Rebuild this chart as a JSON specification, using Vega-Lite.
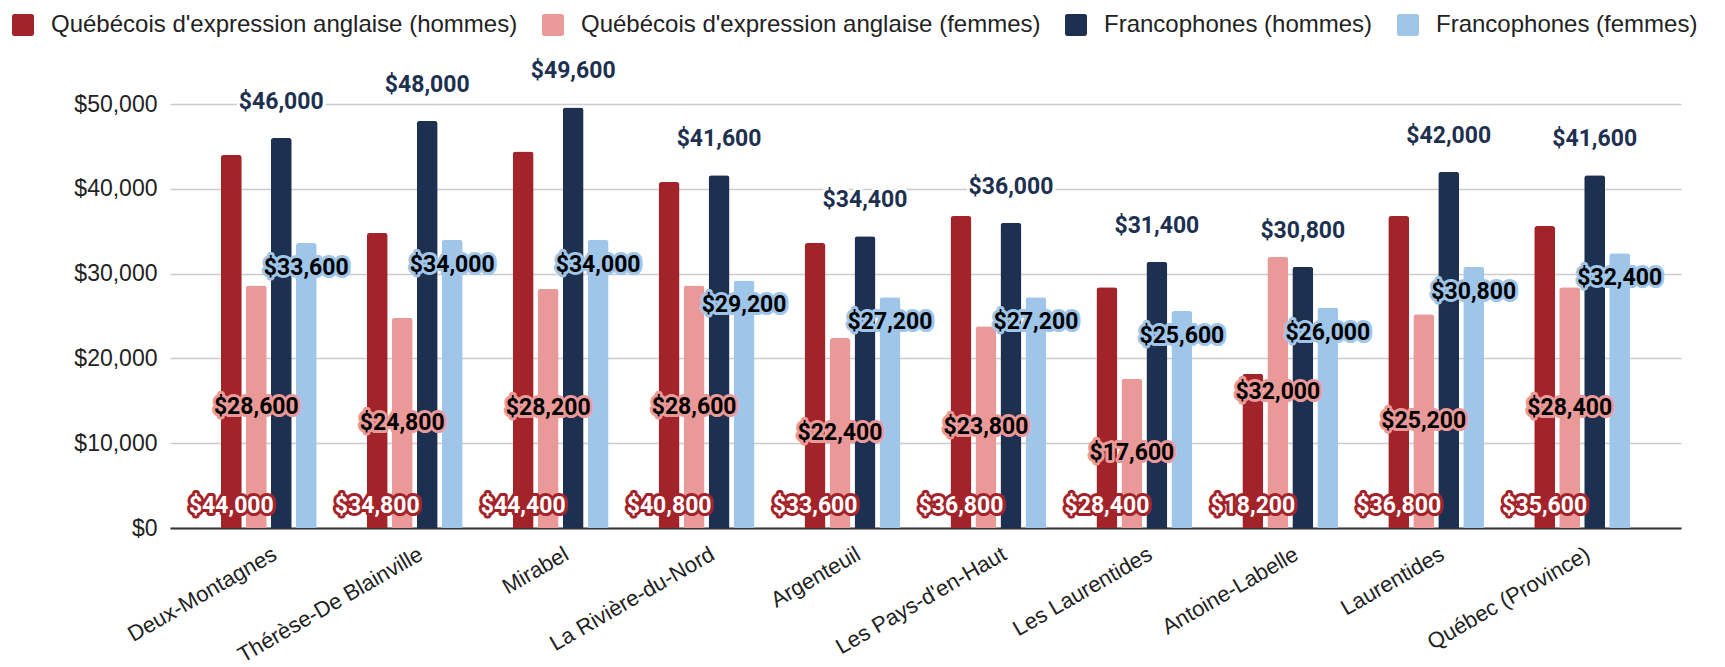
{
  "$schema": "https://vega.github.io/schema/vega-lite/v6.json",
  "width": 1511,
  "height": 424,
  "autosize": {"type": "none"},
  "padding": {"left": 170, "top": 104, "right": 44, "bottom": 139},
  "background": "white",
  "config": {
    "view": {"stroke": null},
    "axis": {"labelFont": "Liberation Sans", "labelColor": "#222222"},
    "text": {"font": "Roboto", "fontWeight": "bold", "fontSize": 23, "baseline": "middle", "align": "center"}
  },
  "data": {
    "values": [
      {"region": "Deux-Montagnes", "series": "Québécois d'expression anglaise (hommes)", "value": 44000},
      {"region": "Deux-Montagnes", "series": "Québécois d'expression anglaise (femmes)", "value": 28600},
      {"region": "Deux-Montagnes", "series": "Francophones (hommes)", "value": 46000},
      {"region": "Deux-Montagnes", "series": "Francophones (femmes)", "value": 33600},
      {"region": "Thérèse-De Blainville", "series": "Québécois d'expression anglaise (hommes)", "value": 34800},
      {"region": "Thérèse-De Blainville", "series": "Québécois d'expression anglaise (femmes)", "value": 24800},
      {"region": "Thérèse-De Blainville", "series": "Francophones (hommes)", "value": 48000},
      {"region": "Thérèse-De Blainville", "series": "Francophones (femmes)", "value": 34000},
      {"region": "Mirabel", "series": "Québécois d'expression anglaise (hommes)", "value": 44400},
      {"region": "Mirabel", "series": "Québécois d'expression anglaise (femmes)", "value": 28200},
      {"region": "Mirabel", "series": "Francophones (hommes)", "value": 49600},
      {"region": "Mirabel", "series": "Francophones (femmes)", "value": 34000},
      {"region": "La Rivière-du-Nord", "series": "Québécois d'expression anglaise (hommes)", "value": 40800},
      {"region": "La Rivière-du-Nord", "series": "Québécois d'expression anglaise (femmes)", "value": 28600},
      {"region": "La Rivière-du-Nord", "series": "Francophones (hommes)", "value": 41600},
      {"region": "La Rivière-du-Nord", "series": "Francophones (femmes)", "value": 29200},
      {"region": "Argenteuil", "series": "Québécois d'expression anglaise (hommes)", "value": 33600},
      {"region": "Argenteuil", "series": "Québécois d'expression anglaise (femmes)", "value": 22400},
      {"region": "Argenteuil", "series": "Francophones (hommes)", "value": 34400},
      {"region": "Argenteuil", "series": "Francophones (femmes)", "value": 27200},
      {"region": "Les Pays-d'en-Haut", "series": "Québécois d'expression anglaise (hommes)", "value": 36800},
      {"region": "Les Pays-d'en-Haut", "series": "Québécois d'expression anglaise (femmes)", "value": 23800},
      {"region": "Les Pays-d'en-Haut", "series": "Francophones (hommes)", "value": 36000},
      {"region": "Les Pays-d'en-Haut", "series": "Francophones (femmes)", "value": 27200},
      {"region": "Les Laurentides", "series": "Québécois d'expression anglaise (hommes)", "value": 28400},
      {"region": "Les Laurentides", "series": "Québécois d'expression anglaise (femmes)", "value": 17600},
      {"region": "Les Laurentides", "series": "Francophones (hommes)", "value": 31400},
      {"region": "Les Laurentides", "series": "Francophones (femmes)", "value": 25600},
      {"region": "Antoine-Labelle", "series": "Québécois d'expression anglaise (hommes)", "value": 18200},
      {"region": "Antoine-Labelle", "series": "Québécois d'expression anglaise (femmes)", "value": 32000},
      {"region": "Antoine-Labelle", "series": "Francophones (hommes)", "value": 30800},
      {"region": "Antoine-Labelle", "series": "Francophones (femmes)", "value": 26000},
      {"region": "Laurentides", "series": "Québécois d'expression anglaise (hommes)", "value": 36800},
      {"region": "Laurentides", "series": "Québécois d'expression anglaise (femmes)", "value": 25200},
      {"region": "Laurentides", "series": "Francophones (hommes)", "value": 42000},
      {"region": "Laurentides", "series": "Francophones (femmes)", "value": 30800},
      {"region": "Québec (Province)", "series": "Québécois d'expression anglaise (hommes)", "value": 35600},
      {"region": "Québec (Province)", "series": "Québécois d'expression anglaise (femmes)", "value": 28400},
      {"region": "Québec (Province)", "series": "Francophones (hommes)", "value": 41600},
      {"region": "Québec (Province)", "series": "Francophones (femmes)", "value": 32400}
    ]
  },
  "encoding": {
    "x": {
      "field": "region", "type": "nominal", "sort": null,
      "scale": {"paddingInner": 0, "paddingOuter": 0.177},
      "axis": {
        "title": null, "labelAngle": -30, "labelAlign": "right", "labelBaseline": "middle",
        "labelFontSize": 22, "labelPadding": 24, "labelOffset": 6, "ticks": false,
        "domainColor": "#333333", "domainWidth": 2, "grid": false, "labelLimit": 0
      }
    },
    "xOffset": {
      "field": "series", "type": "nominal",
      "scale": {
        "domain": ["Québécois d'expression anglaise (hommes)", "Québécois d'expression anglaise (femmes)", "Francophones (hommes)", "Francophones (femmes)"],
        "paddingInner": 0.16, "paddingOuter": 1.22
      }
    }
  },
  "layer": [
    {
      "mark": {"type": "bar", "cornerRadiusTopLeft": 3, "cornerRadiusTopRight": 3},
      "encoding": {
        "y": {
          "field": "value", "type": "quantitative",
          "scale": {"domain": [0, 50000], "nice": false},
          "axis": {
            "title": null, "values": [0, 10000, 20000, 30000, 40000, 50000], "format": "$,.0f",
            "labelFontSize": 23, "labelPadding": 13, "ticks": false, "domain": false,
            "gridColor": "#cccccc", "gridWidth": 1.5
          }
        },
        "color": {
          "field": "series", "type": "nominal",
          "scale": {
            "domain": ["Québécois d'expression anglaise (hommes)", "Québécois d'expression anglaise (femmes)", "Francophones (hommes)", "Francophones (femmes)"],
            "range": ["#a3232a", "#ea9999", "#1d3050", "#9fc5e8"]
          },
          "legend": {
            "title": null, "orient": "none", "legendX": -159, "legendY": -91, "direction": "horizontal",
            "labelFont": "Liberation Sans", "labelFontSize": 24, "labelColor": "#222222", "labelLimit": 0,
            "labelOffset": 16, "columnPadding": 23, "symbolSize": 484, "symbolStrokeWidth": 0, "symbolOpacity": 1,
            "symbolType": "M-0.8,-1H0.8A0.2,0.2 0 0 1 1,-0.8V0.8A0.2,0.2 0 0 1 0.8,1H-0.8A0.2,0.2 0 0 1 -1,0.8V-0.8A0.2,0.2 0 0 1 -0.8,-1Z"
          }
        }
      }
    },
    {
      "transform": [{"filter": "datum.series === \"Québécois d'expression anglaise (hommes)\""}],
      "mark": {"type": "text", "dy": -22, "stroke": "#a3232a", "fill": "#a3232a", "strokeWidth": 6, "strokeJoin": "round"},
      "encoding": {"y": {"datum": 0, "type": "quantitative"}, "text": {"field": "value", "type": "quantitative", "format": "$,.0f"}}
    },
    {
      "transform": [{"filter": "datum.series === \"Québécois d'expression anglaise (hommes)\""}],
      "mark": {"type": "text", "dy": -22, "fill": "#ffffff"},
      "encoding": {"y": {"datum": 0, "type": "quantitative"}, "text": {"field": "value", "type": "quantitative", "format": "$,.0f"}}
    },
    {
      "transform": [{"filter": "datum.series === \"Québécois d'expression anglaise (femmes)\""}, {"calculate": "datum.value / 2", "as": "mid"}],
      "mark": {"type": "text", "stroke": "#ea9999", "fill": "#ea9999", "strokeWidth": 6, "strokeJoin": "round"},
      "encoding": {"y": {"field": "mid", "type": "quantitative"}, "text": {"field": "value", "type": "quantitative", "format": "$,.0f"}}
    },
    {
      "transform": [{"filter": "datum.series === \"Québécois d'expression anglaise (femmes)\""}, {"calculate": "datum.value / 2", "as": "mid"}],
      "mark": {"type": "text", "fill": "#000000"},
      "encoding": {"y": {"field": "mid", "type": "quantitative"}, "text": {"field": "value", "type": "quantitative", "format": "$,.0f"}}
    },
    {
      "transform": [{"filter": "datum.series === 'Francophones (hommes)'"}],
      "mark": {"type": "text", "dy": -36, "stroke": "#ffffff", "fill": "#ffffff", "strokeWidth": 6, "strokeJoin": "round"},
      "encoding": {"y": {"field": "value", "type": "quantitative"}, "text": {"field": "value", "type": "quantitative", "format": "$,.0f"}}
    },
    {
      "transform": [{"filter": "datum.series === 'Francophones (hommes)'"}],
      "mark": {"type": "text", "dy": -36, "fill": "#1d3050"},
      "encoding": {"y": {"field": "value", "type": "quantitative"}, "text": {"field": "value", "type": "quantitative", "format": "$,.0f"}}
    },
    {
      "transform": [{"filter": "datum.series === 'Francophones (femmes)'"}],
      "mark": {"type": "text", "dy": 25, "stroke": "#9fc5e8", "fill": "#9fc5e8", "strokeWidth": 6, "strokeJoin": "round"},
      "encoding": {"y": {"field": "value", "type": "quantitative"}, "text": {"field": "value", "type": "quantitative", "format": "$,.0f"}}
    },
    {
      "transform": [{"filter": "datum.series === 'Francophones (femmes)'"}],
      "mark": {"type": "text", "dy": 25, "fill": "#000000"},
      "encoding": {"y": {"field": "value", "type": "quantitative"}, "text": {"field": "value", "type": "quantitative", "format": "$,.0f"}}
    }
  ]
}
